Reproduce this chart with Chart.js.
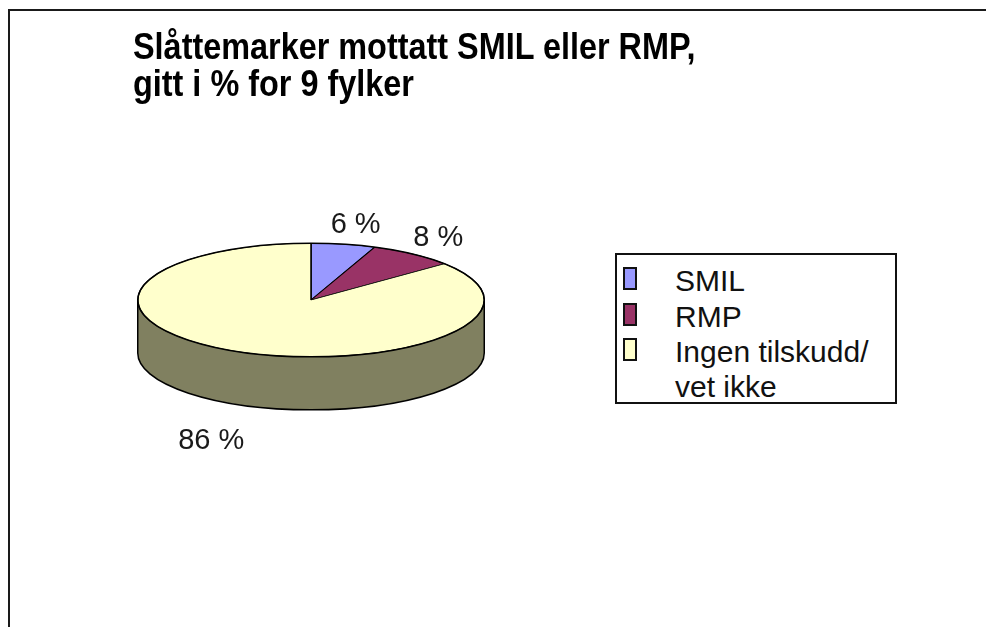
<!DOCTYPE html>
<html lang="no">
<head>
    <meta charset="UTF-8">
    <title>Slåttemarker mottatt SMIL eller RMP</title>
    <script src="https://cdn.jsdelivr.net/npm/chart.js"></script>
    <style>
        body {
            margin: 0;
            background: #ffffff;
            font-family: "Liberation Sans", Arial, sans-serif;
            width: 986px;
            height: 627px;
            position: relative;
            overflow: hidden;
        }
        .frame {
            position: absolute;
            left: 8px;
            top: 9px;
            right: -10px;
            bottom: -10px;
            border-top: 2px solid #1a1a1a;
            border-left: 2px solid #1a1a1a;
        }
        #chart {
            position: absolute;
            left: 0;
            top: 0;
        }
        .title {
            position: absolute;
            left: 133px;
            top: 28px;
            font-weight: bold;
            font-size: 36px;
            line-height: 37px;
            color: #000;
            white-space: nowrap;
            transform: scaleX(0.9);
            transform-origin: left top;
        }
        .legend {
            position: absolute;
            left: 615px;
            top: 253px;
            width: 278px;
            height: 147px;
            border: 2px solid #111;
            background: #fff;
        }
        .legend-item {
            position: absolute;
            left: 6px;
            font-size: 30px;
            line-height: 35px;
            color: #111;
        }
        .legend-item .box {
            position: absolute;
            left: 0;
            top: 4px;
            width: 10px;
            height: 19px;
            border: 2px solid #111;
        }
        .legend-item .txt {
            position: absolute;
            left: 52px;
            top: 0;
            width: 215px;
        }
    </style>
</head>
<body>
    <div class="frame"></div>
    <canvas id="chart" width="986" height="627"></canvas>
    <div class="title">Slåttemarker mottatt SMIL eller RMP,<br>gitt i % for 9 fylker</div>
    <div class="legend" id="legend"></div>

    <script>
        const categories = ["SMIL", "RMP", "Ingen tilskudd/ vet ikke"];
        const shares = [6, 8, 86];
        const sliceColors = ["#9999ff", "#993366", "#ffffcc"];
        const sideColor = "#808060";

        // 3D look: squash the pie vertically and draw a side wall under it
        const tilt = 0.328;
        const depth = 53;

        const pie3d = {
            id: "pie3d",
            beforeDatasetsDraw(chart) {
                const ctx = chart.ctx;
                const arc = chart.getDatasetMeta(0).data[0];
                const cx = arc.x, cy = arc.y, r = arc.outerRadius;
                ctx.save();
                ctx.beginPath();
                ctx.moveTo(cx + r, cy);
                ctx.lineTo(cx + r, cy + depth);
                ctx.ellipse(cx, cy + depth, r, r * tilt, 0, 0, Math.PI);
                ctx.lineTo(cx - r, cy);
                ctx.closePath();
                ctx.fillStyle = sideColor;
                ctx.fill();
                ctx.lineWidth = 1.5;
                ctx.strokeStyle = "#000";
                ctx.stroke();
                ctx.restore();

                ctx.save();
                ctx.translate(cx, cy);
                ctx.scale(1, tilt);
                ctx.translate(-cx, -cy);
            },
            afterDatasetsDraw(chart) {
                const ctx = chart.ctx;
                ctx.restore();
                const meta = chart.getDatasetMeta(0);
                const arc = meta.data[0];
                const cx = arc.x, cy = arc.y, r = arc.outerRadius;
                ctx.save();
                ctx.beginPath();
                ctx.ellipse(cx, cy, r, r * tilt, 0, 0, Math.PI * 2);
                ctx.lineWidth = 1.5;
                ctx.strokeStyle = "#000";
                ctx.stroke();

                // percentage labels outside each slice
                ctx.font = "29px 'Liberation Sans', Arial, sans-serif";
                ctx.fillStyle = "#1a1a1a";
                ctx.textAlign = "center";
                ctx.textBaseline = "middle";
                meta.data.forEach((el, i) => {
                    const mid = (el.startAngle + el.endAngle) / 2;
                    const c = Math.cos(mid), s = Math.sin(mid);
                    let px = cx + r * c;
                    let py = cy + r * tilt * s;
                    if (s > 0) py += depth;
                    const txt = shares[i] + " %";
                    const w = ctx.measureText(txt).width;
                    const push = s > 0 ? 28 : 8;
                    px += c * push + c * w / 2 + (s > 0 ? 0 : 6);
                    py += s * push + s * 12;
                    ctx.fillText(txt, px, py);
                });
                ctx.restore();
            }
        };

        new Chart(document.getElementById("chart"), {
            type: "pie",
            data: {
                labels: categories,
                datasets: [{
                    data: shares,
                    backgroundColor: sliceColors,
                    borderColor: "#000",
                    borderWidth: 1.5,
                    hoverOffset: 0
                }]
            },
            options: {
                responsive: false,
                animation: false,
                events: [],
                layout: {
                    padding: { left: 137, right: 501, top: 126, bottom: 153 }
                },
                plugins: {
                    legend: { display: false },
                    title: { display: false },
                    tooltip: { enabled: false }
                }
            },
            plugins: [pie3d]
        });

        // legend box built from the same arrays
        const legendEl = document.getElementById("legend");
        const rowTops = [8, 44, 79];
        categories.forEach((name, i) => {
            const item = document.createElement("div");
            item.className = "legend-item";
            item.style.top = rowTops[i] + "px";
            item.innerHTML = '<span class="box" style="background:' + sliceColors[i] + '"></span>' +
                '<span class="txt">' + name + '</span>';
            legendEl.appendChild(item);
        });
    </script>
</body>
</html>
